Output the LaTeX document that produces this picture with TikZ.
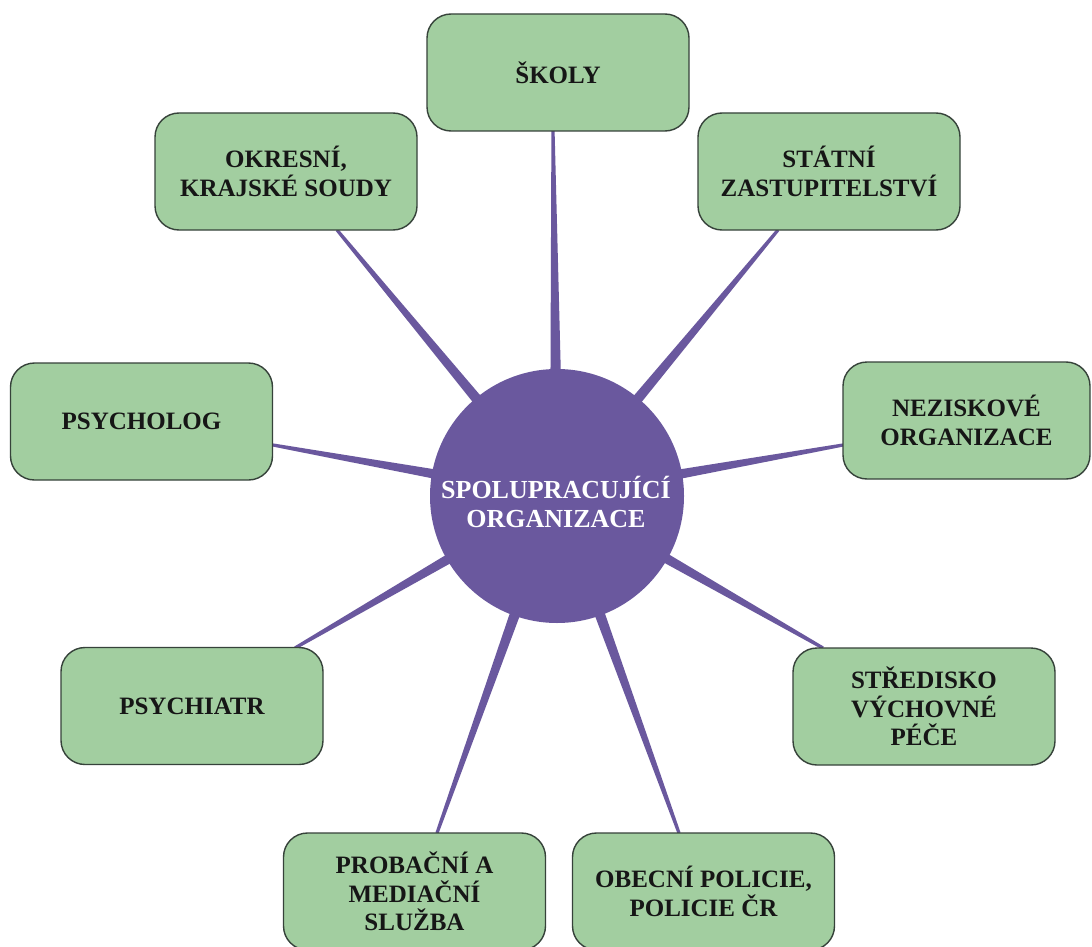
\documentclass[tikz,border=0pt]{standalone}
\usepackage{fontspec}
\setmainfont{Liberation Serif}
\usetikzlibrary{calc,backgrounds}
\definecolor{boxfill}{HTML}{A2CEA0}
\definecolor{boxline}{HTML}{36423A}
\definecolor{hub}{HTML}{6A589E}
\definecolor{txt}{HTML}{161616}
\newcommand\spoke[2]{\fill[hub] ($(#1)!1.6pt!90:(#2.center)$) -- ($(#2.center)!7pt!-90:(#1)$) -- ($(#2.center)!7pt!90:(#1)$) -- ($(#1)!1.6pt!-90:(#2.center)$) -- cycle;}
\begin{document}
\begin{tikzpicture}[x=1pt,y=-1pt,
  box/.style={rectangle, rounded corners=24pt, draw=boxline, line width=1.4pt, fill=boxfill,
    minimum width=262pt, minimum height=117pt, align=center, inner sep=0pt,
    font=\bfseries\fontsize{25}{28.5}\selectfont, text=txt},
  hubnode/.style={circle, fill=hub, minimum size=254pt, inner sep=0pt},
  hubtext/.style={align=center, inner sep=0pt,
    font=\bfseries\fontsize{26}{28.5}\selectfont, text=white}]
\useasboundingbox (0,0) rectangle (1092,947);
\node[hubnode] (c) at (557,496) {};
\node[hubtext] (ct) at (556,502) {SPOLUPRACUJÍCÍ\\ORGANIZACE};
\node[box] (b1) at (558,72.5) {ŠKOLY};
\node[box] (b2) at (286,171.5) {OKRESNÍ,\\KRAJSKÉ SOUDY};
\node[box] (b3) at (829,171.5) {STÁTNÍ\\ZASTUPITELSTVÍ};
\node[box] (b4) at (141.5,421.5) {PSYCHOLOG};
\node[box, minimum width=247pt] (b5) at (966.5,420.5) {NEZISKOVÉ\\ORGANIZACE};
\node[box] (b6) at (192,706) {PSYCHIATR};
\node[box] (b7) at (924,706.5) {STŘEDISKO\\VÝCHOVNÉ\\PÉČE};
\node[box] (b8) at (414.5,891.5) {PROBAČNÍ A\\MEDIAČNÍ\\SLUŽBA};
\node[box] (b9) at (703.5,891.5) {OBECNÍ POLICIE,\\POLICIE ČR};
\coordinate (e1) at (553,131);
\coordinate (e2) at (337,230);
\coordinate (e3) at (778,230);
\coordinate (e4) at (273,445);
\coordinate (e5) at (843,445);
\coordinate (e6) at (295,648);
\coordinate (e7) at (823,648);
\coordinate (e8) at (437,833);
\coordinate (e9) at (679,833);
\begin{scope}[on background layer]
\fill[white] (0,0) rectangle (1092,947);
\spoke{e1}{c}
\spoke{e2}{c}
\spoke{e3}{c}
\spoke{e4}{c}
\spoke{e5}{c}
\spoke{e6}{c}
\spoke{e7}{c}
\spoke{e8}{c}
\spoke{e9}{c}
\end{scope}
\end{tikzpicture}
\end{document}
